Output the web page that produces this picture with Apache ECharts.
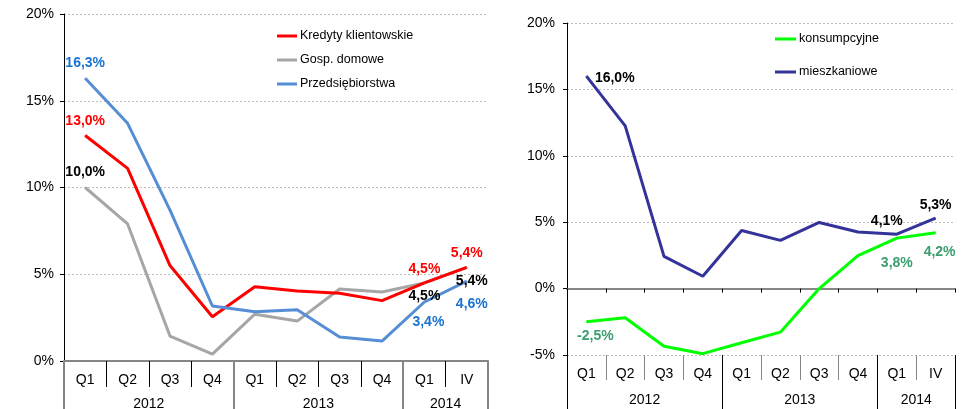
<!DOCTYPE html>
<html>
<head>
<meta charset="utf-8">
<script src="https://cdn.jsdelivr.net/npm/echarts@6/dist/echarts.min.js"></script>
<style>
html,body{margin:0;padding:0;background:#fff}
#chart{width:971px;height:409px}
</style>
</head>
<body>
<div id="chart"></div>
<script>
var quarters = ['Q1','Q2','Q3','Q4','Q1','Q2','Q3','Q4','Q1','IV'];
var years = ['2012','2013','2014'];
var quartersPerYear = [4,4,2];

var kredyty = [13.0,11.1,5.5,2.55,4.28,4.03,3.9,3.48,4.5,5.4];
var gospDomowe = [10.0,7.9,1.44,0.4,2.7,2.3,4.15,3.98,4.5,5.4];
var przedsiebiorstwa = [16.3,13.7,8.7,3.17,2.84,2.96,1.38,1.15,3.4,4.6];
var konsumpcyjne = [-2.5,-2.2,-4.34,-4.9,-4.08,-3.28,0.0,2.48,3.8,4.2];
var mieszkaniowe = [16.0,12.25,2.43,0.93,4.38,3.63,4.98,4.26,4.1,5.3];

var font = 'Liberation Sans, Arial, sans-serif';

// year boundaries and centres on a 0..10 scale
var yearBounds = [0];
var yearMids = [];
for (var i = 0; i < quartersPerYear.length; i++) {
  yearMids.push(yearBounds[i] + quartersPerYear[i] / 2);
  yearBounds.push(yearBounds[i] + quartersPerYear[i]);
}
function yearName(v) {
  for (var k = 0; k < yearMids.length; k++) {
    if (Math.abs(yearMids[k] - v) < 1e-6) return years[k];
  }
  return '';
}

function pct(p) {
  return p.value.toFixed(1).replace('.', ',') + '%';
}

function withLabels(values, spec, color, dy) {
  return values.map(function (v, i) {
    var item = {value: v};
    if (spec[i]) {
      var s = Object.assign({show: true, color: color}, spec[i]);
      var off = s.offset || [0, 0];
      s.offset = [off[0], off[1] + dy];
      item.label = s;
    }
    return item;
  });
}

var seriesLabel = {show: false, fontWeight: 'bold', fontSize: 14, fontFamily: font, formatter: pct};

function lineSeries(name, data, color, xi, yi) {
  return {
    name: name, type: 'line', data: data, xAxisIndex: xi, yAxisIndex: yi,
    symbol: 'circle', symbolSize: 1, showSymbol: true,
    lineStyle: {color: color, width: 3}, itemStyle: {color: color},
    label: seriesLabel, z: 5
  };
}

var splitLine = {show: true, lineStyle: {color: '#bfbfbf', type: [2, 2], width: 1}};
var axisText = {color: '#000', fontSize: 14, fontFamily: font};
var legendText = {color: '#000', fontSize: 12.5, fontFamily: font, lineHeight: 14, padding: [0, 0, 0, -2]};

var myChart = echarts.init(document.getElementById('chart'));
var option = {
  animation: false,
  backgroundColor: '#fff',
  grid: [
    {left: 64, right: 483, top: 14, height: 347, outerBoundsMode: 'none', containLabel: false},
    {left: 567, right: 16, top: 23, height: 332, outerBoundsMode: 'none', containLabel: false}
  ],
  legend: [
    {
      data: ['Kredyty klientowskie', 'Gosp. domowe', 'Przedsiębiorstwa'],
      orient: 'vertical', left: 277, top: 29, padding: 0, icon: 'rect',
      itemWidth: 20, itemHeight: 3, itemGap: 10, textStyle: legendText
    },
    {
      data: ['konsumpcyjne', 'mieszkaniowe'],
      orient: 'vertical', left: 775, top: 32, padding: 0, icon: 'rect',
      itemWidth: 21, itemHeight: 3, itemGap: 19, textStyle: legendText
    }
  ],
  xAxis: [
    // left: quarter labels
    {
      type: 'category', gridIndex: 0, data: quarters, position: 'bottom',
      axisLine: {show: true, lineStyle: {color: '#868686', width: 2}},
      axisTick: {show: true, interval: 0, length: 26, lineStyle: {color: '#000', width: 1}},
      axisLabel: Object.assign({interval: 0, margin: 12}, axisText),
      splitLine: {show: false}
    },
    // left: year labels
    {
      type: 'value', gridIndex: 0, min: 0, max: 10, position: 'bottom',
      axisLine: {show: false},
      axisTick: {show: true, customValues: yearBounds, length: 48, lineStyle: {color: '#868686', width: 2}},
      axisLabel: Object.assign({customValues: yearMids, formatter: yearName, margin: 36}, axisText),
      splitLine: {show: false}
    },
    // right: zero axis
    {
      type: 'category', gridIndex: 1, data: quarters, position: 'bottom',
      axisLine: {show: true, onZero: true, lineStyle: {color: '#868686', width: 2}},
      axisTick: {show: true, interval: 0, length: 4, lineStyle: {color: '#000', width: 1}},
      axisLabel: {show: false},
      splitLine: {show: false}
    },
    // right: quarter labels
    {
      type: 'category', gridIndex: 1, data: quarters, position: 'bottom',
      axisLine: {show: false, onZero: false},
      axisTick: {show: true, interval: 0, length: 25, lineStyle: {color: '#868686', width: 1}},
      axisLabel: Object.assign({interval: 0, margin: 12}, axisText),
      splitLine: {show: false}
    },
    // right: year labels
    {
      type: 'value', gridIndex: 1, min: 0, max: 10, position: 'bottom',
      axisLine: {show: false, onZero: false},
      axisTick: {show: true, customValues: yearBounds, length: 54, lineStyle: {color: '#000', width: 1}},
      axisLabel: Object.assign({customValues: yearMids, formatter: yearName, margin: 38}, axisText),
      splitLine: {show: false}
    }
  ],
  yAxis: [
    {
      type: 'value', gridIndex: 0, min: 0, max: 20, interval: 5,
      axisLine: {show: true, lineStyle: {color: '#000', width: 1}},
      axisTick: {show: true, length: 4, lineStyle: {color: '#000'}},
      axisLabel: Object.assign({formatter: '{value}%', margin: 10, padding: [3, 0, 0, 0]}, axisText),
      splitLine: splitLine
    },
    {
      type: 'value', gridIndex: 1, min: -5, max: 20, interval: 5,
      axisLine: {show: true, lineStyle: {color: '#000', width: 1}},
      axisTick: {show: true, length: 4, lineStyle: {color: '#000'}},
      axisLabel: Object.assign({formatter: '{value}%', margin: 12, padding: [5, 0, 0, 0]}, axisText),
      splitLine: splitLine
    }
  ],
  series: [
    lineSeries('Gosp. domowe', withLabels(gospDomowe, {
      0: {position: 'top', distance: 8},
      8: {position: 'bottom', distance: 6},
      9: {position: 'bottom', distance: 6, offset: [5, 0]}
    }, '#000', 0), '#a6a6a6', 0, 0),
    lineSeries('Kredyty klientowskie', withLabels(kredyty, {
      0: {position: 'top', distance: 7},
      8: {position: 'top', distance: 6},
      9: {position: 'top', distance: 7}
    }, '#ff0000', 0), '#ff0000', 0, 0),
    lineSeries('Przedsiębiorstwa', withLabels(przedsiebiorstwa, {
      0: {position: 'top', distance: 8},
      8: {position: 'bottom', distance: 13, offset: [4, 0]},
      9: {position: 'bottom', distance: 15, offset: [5, 0]}
    }, '#1a73d0', 0), '#558ed5', 0, 0),
    lineSeries('konsumpcyjne', withLabels(konsumpcyjne, {
      0: {position: 'bottom', distance: 5, offset: [9, 0]},
      8: {position: 'bottom', distance: 16},
      9: {position: 'bottom', distance: 10, offset: [4, 0]}
    }, '#3a9e6e', 2), '#00ff00', 2, 1),
    lineSeries('mieszkaniowe', withLabels(mieszkaniowe, {
      0: {position: 'right', distance: 8},
      8: {position: 'top', distance: 8, offset: [-10, 0]},
      9: {position: 'top', distance: 8}
    }, '#000', 2), '#333399', 2, 1)
  ]
};
myChart.setOption(option);
</script>
</body>
</html>
